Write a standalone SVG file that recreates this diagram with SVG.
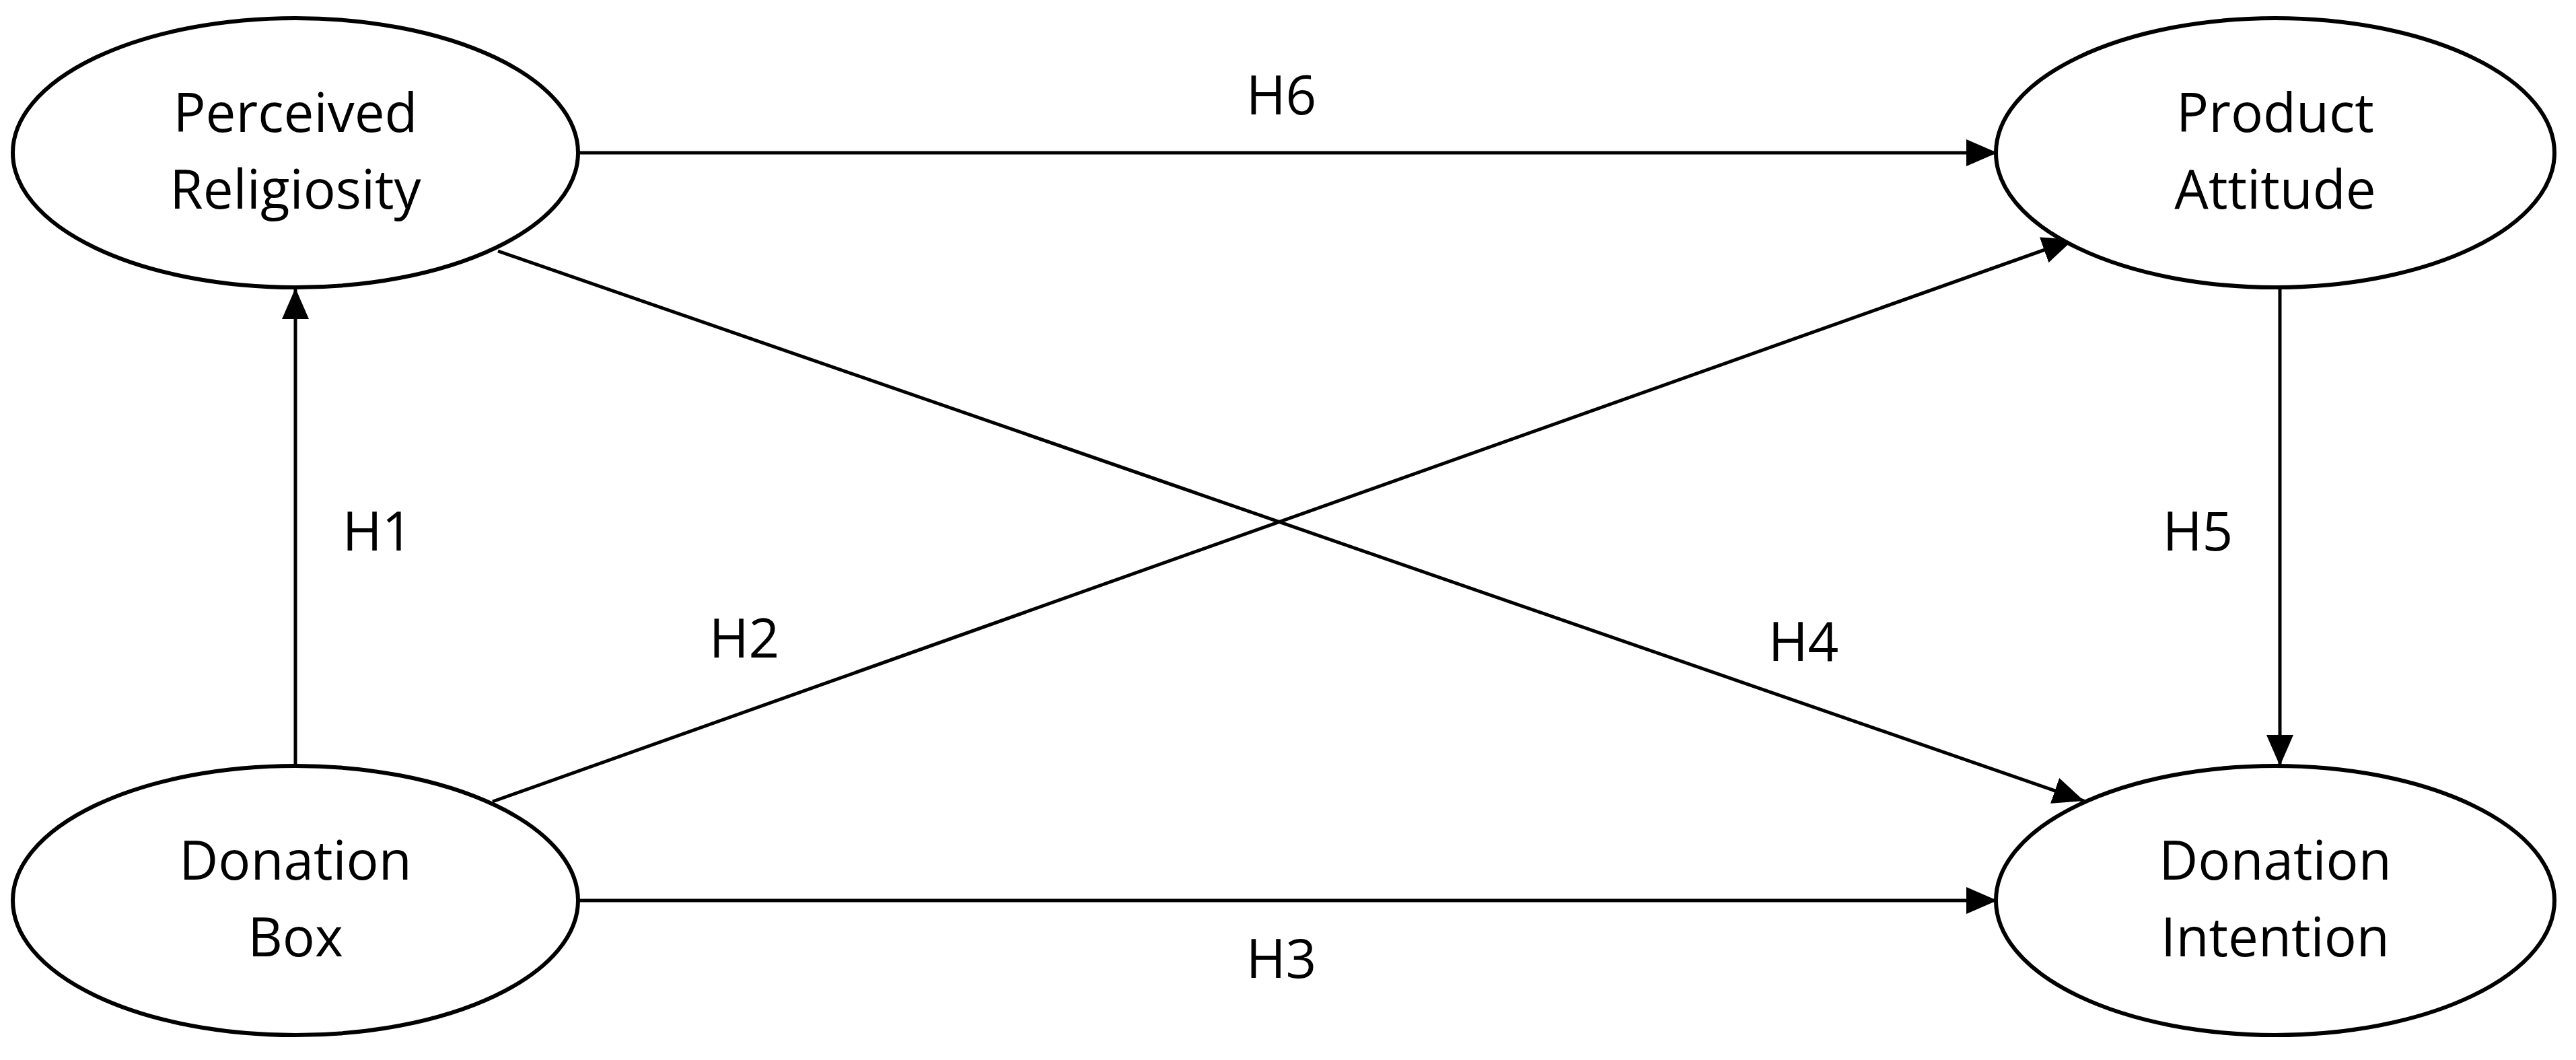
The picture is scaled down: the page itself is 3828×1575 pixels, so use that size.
<svg xmlns="http://www.w3.org/2000/svg" width="3828" height="1575" viewBox="0 0 3828 1575">
<style>
.n{fill:#fff;stroke:#000;stroke-width:6}
text{font-family:"Open Sans","Liberation Sans",sans-serif;font-size:80px;fill:#000;text-anchor:middle}
.c{stroke:#000;stroke-width:5;fill:none;marker-end:url(#a)}
</style>
<defs><marker id="a" markerUnits="userSpaceOnUse" markerWidth="46" markerHeight="40" refX="46" refY="20" orient="auto"><path d="M0,0L46,20L0,40z" fill="#000"/></marker></defs>
<rect width="3828" height="1575" fill="#fff"/>
<g id="connectors">
<line class="c" x1="859" y1="227" x2="2968" y2="227"/>
<line class="c" x1="439" y1="1137" x2="439" y2="428"/>
<line class="c" x1="859" y1="1338" x2="2968" y2="1338"/>
<line class="c" x1="3388" y1="427" x2="3388" y2="1138"/>
<line class="c" x1="732" y1="1191" x2="3081" y2="356"/>
<line class="c" x1="740" y1="373" x2="3097" y2="1190"/>
<text x="1904" y="170">H6</text>
<text x="561" y="818">H1</text>
<text x="1106" y="977">H2</text>
<text x="2680" y="982">H4</text>
<text x="3266" y="818">H5</text>
<text x="1904" y="1453">H3</text>
</g>
<g id="pr"><ellipse class="n" cx="439" cy="227" rx="420" ry="200"/><text x="439" y="196">Perceived</text><text x="439" y="310">Religiosity</text></g>
<g id="pa"><ellipse class="n" cx="3381" cy="227" rx="415" ry="200"/><text x="3381" y="196">Product</text><text x="3381" y="310">Attitude</text></g>
<g id="db"><ellipse class="n" cx="439" cy="1338" rx="420" ry="200"/><text x="439" y="1307">Donation</text><text x="439" y="1421">Box</text></g>
<g id="di"><ellipse class="n" cx="3381" cy="1338" rx="415" ry="200"/><text x="3381" y="1307">Donation</text><text x="3381" y="1421">Intention</text></g>
</svg>
